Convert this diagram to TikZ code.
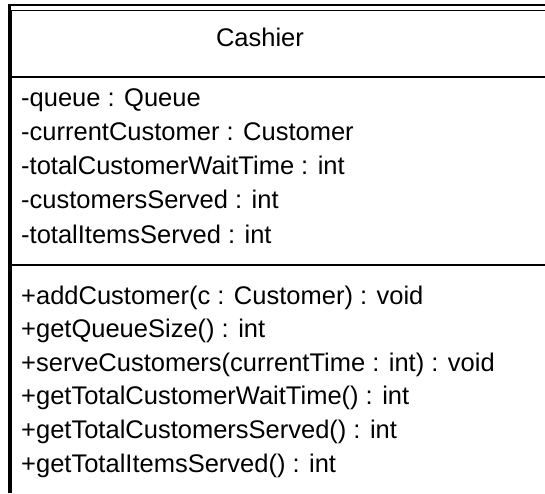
\documentclass[tikz,border=0pt]{standalone}
\usepackage{fontspec}
\setmainfont{Liberation Sans}
\begin{document}
\begin{tikzpicture}[x=1pt,y=-1pt,
   member/.style={anchor=base west,inner sep=0pt,font=\fontsize{25.5}{30}\selectfont}]
   \useasboundingbox (0,0) rectangle (545,493);
   \draw[line width=2.5pt] (545,5) -- (9.5,5) -- (9.5,493);
   \draw[line width=1.5pt] (545,10.5) -- (11.5,10.5) -- (11.5,493);
   \draw[line width=2.2pt] (12,77) -- (545,77);
   \draw[line width=2pt] (12,265) -- (545,265);
   \node[member,anchor=base] (name) at (260,46) {Cashier};
   \node[member] (queue) at (21,106) {-queue : Queue};
   \node[member] (current) at (21,140.3) {-currentCustomer : Customer};
   \node[member] (wait) at (21,174.6) {-totalCustomerWaitTime : int};
   \node[member] (served) at (21,208.9) {-customersServed : int};
   \node[member] (items) at (21,243.2) {-totalItemsServed : int};
   \node[member] (add) at (21,304) {+addCustomer(c : Customer) : void};
   \node[member] (size) at (21,337.6) {+getQueueSize() : int};
   \node[member] (serve) at (21,371.2) {+serveCustomers(currentTime : int) : void};
   \node[member] (getwait) at (21,404.8) {+getTotalCustomerWaitTime() : int};
   \node[member] (getserved) at (21,438.4) {+getTotalCustomersServed() : int};
   \node[member] (getitems) at (21,472) {+getTotalItemsServed() : int};
\end{tikzpicture}
\end{document}
